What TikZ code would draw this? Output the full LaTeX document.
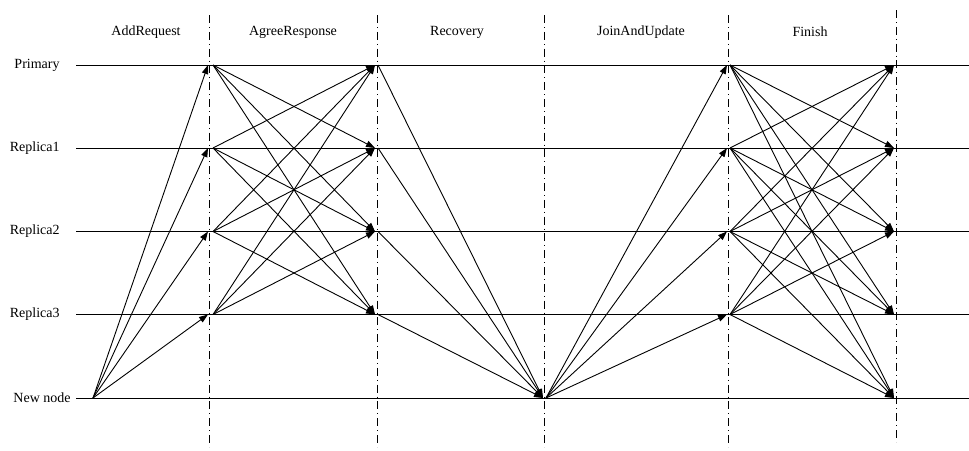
\documentclass[tikz,border=0pt]{standalone}
\usepackage{fontspec}
\setmainfont{Liberation Serif}
\usetikzlibrary{arrows.meta}

\begin{document}
\begin{tikzpicture}[x=0.5pt,y=-0.5pt,
  font=\fontsize{7pt}{8pt}\selectfont,
  msg/.style={-{Triangle[length=4.5pt,width=3.2pt]},line width=0.45pt},
  lane/.style={line width=0.5pt},
  proc/.style={anchor=east,inner sep=0pt},
  phaseline/.style={line width=0.5pt,dash pattern=on 4pt off 2pt on 0.4pt off 2pt}]
  \useasboundingbox (0,0) rectangle (969,450);

  % phases
  \node (addreq) at (146,32) {AddRequest};
  \node (agreeresp) at (293,32) {AgreeResponse};
  \node (recov) at (457,32) {Recovery};
  \node (joinupd) at (641,32) {JoinAndUpdate};
  \node (finish) at (810,32) {Finish};

  \draw[phaseline] (209,15) -- (209,447);
  \draw[phaseline] (377,15) -- (377,447);
  \draw[phaseline] (544,15) -- (544,447);
  \draw[phaseline] (728,15) -- (728,447);
  \draw[phaseline] (896,10) -- (896,442);

  % processes
  \node[proc] (primary) at (60,65) {Primary};
  \node[proc] (replica1) at (60,148) {Replica1};
  \node[proc] (replica2) at (60,231.5) {Replica2};
  \node[proc] (replica3) at (60,314.5) {Replica3};
  \node[proc] (newnode) at (71,398) {New node};

  \draw[lane] ([xshift=8pt]primary.east) -- +(893,0);
  \draw[lane] ([xshift=8pt]replica1.east) -- +(893,0);
  \draw[lane] ([xshift=8pt]replica2.east) -- +(893,0);
  \draw[lane] ([xshift=8pt]replica3.east) -- +(893,0);
  \draw[lane] ([xshift=2.5pt]newnode.east) -- +(893,0);

  % crossing points
  \coordinate (nS) at (93,398);
  \coordinate (pA) at (208,65);
  \coordinate (r1A) at (208,148);
  \coordinate (r2A) at (208,231.5);
  \coordinate (r3A) at (208,314.5);
  \coordinate (pAo) at (213,65);
  \coordinate (r1Ao) at (213,148);
  \coordinate (r2Ao) at (213,231.5);
  \coordinate (r3Ao) at (213,314.5);
  \coordinate (pB) at (375,65);
  \coordinate (r1B) at (375,148);
  \coordinate (r2B) at (375,231.5);
  \coordinate (r3B) at (375,314.5);
  \coordinate (pBo) at (378,65);
  \coordinate (r1Bo) at (378,148);
  \coordinate (r2Bo) at (378,231.5);
  \coordinate (r3Bo) at (378,314.5);
  \coordinate (nC) at (543,398);
  \coordinate (nCo) at (546,398);
  \coordinate (pD) at (727,65);
  \coordinate (r1D) at (727,148);
  \coordinate (r2D) at (727,231.5);
  \coordinate (r3D) at (727,314.5);
  \coordinate (pDo) at (730,65);
  \coordinate (r1Do) at (730,148);
  \coordinate (r2Do) at (730,231.5);
  \coordinate (r3Do) at (730,314.5);
  \coordinate (pE) at (894,65);
  \coordinate (r1E) at (894,148);
  \coordinate (r2E) at (894,231.5);
  \coordinate (r3E) at (894,314.5);
  \coordinate (nE) at (894,398);

  % add request
  \draw[msg] (nS) -- (pA);
  \draw[msg] (nS) -- (r1A);
  \draw[msg] (nS) -- (r2A);
  \draw[msg] (nS) -- (r3A);

  % agree response
  \draw[msg] (pAo) -- (r1B);
  \draw[msg] (pAo) -- (r2B);
  \draw[msg] (pAo) -- (r3B);
  \draw[msg] (r1Ao) -- (pB);
  \draw[msg] (r1Ao) -- (r2B);
  \draw[msg] (r1Ao) -- (r3B);
  \draw[msg] (r2Ao) -- (pB);
  \draw[msg] (r2Ao) -- (r1B);
  \draw[msg] (r2Ao) -- (r3B);
  \draw[msg] (r3Ao) -- (pB);
  \draw[msg] (r3Ao) -- (r1B);
  \draw[msg] (r3Ao) -- (r2B);

  % recovery
  \draw[msg] (pBo) -- (nC);
  \draw[msg] (r1Bo) -- (nC);
  \draw[msg] (r2Bo) -- (nC);
  \draw[msg] (r3Bo) -- (nC);

  % join and update
  \draw[msg] (nCo) -- (pD);
  \draw[msg] (nCo) -- (r1D);
  \draw[msg] (nCo) -- (r2D);
  \draw[msg] (nCo) -- (r3D);

  % finish
  \draw[msg] (pDo) -- (r1E);
  \draw[msg] (pDo) -- (r2E);
  \draw[msg] (pDo) -- (r3E);
  \draw[msg] (pDo) -- (nE);
  \draw[msg] (r1Do) -- (pE);
  \draw[msg] (r1Do) -- (r2E);
  \draw[msg] (r1Do) -- (r3E);
  \draw[msg] (r1Do) -- (nE);
  \draw[msg] (r2Do) -- (pE);
  \draw[msg] (r2Do) -- (r1E);
  \draw[msg] (r2Do) -- (r3E);
  \draw[msg] (r2Do) -- (nE);
  \draw[msg] (r3Do) -- (pE);
  \draw[msg] (r3Do) -- (r1E);
  \draw[msg] (r3Do) -- (r2E);
  \draw[msg] (r3Do) -- (nE);

\end{tikzpicture}
\end{document}
